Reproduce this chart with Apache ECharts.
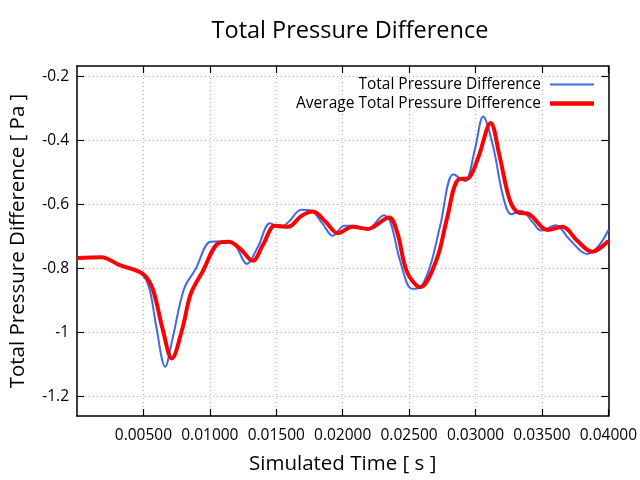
<!DOCTYPE html>
<html>
<head>
<meta charset="utf-8">
<script src="https://cdn.jsdelivr.net/npm/echarts@6/dist/echarts.min.js"></script>
<style>
  html, body { margin: 0; padding: 0; background: #fff; }
  #main { width: 640px; height: 480px; }
</style>
</head>
<body>
<div id="main"></div>
<script>
// values
const rawTime = [0, 0.00184, 0.00321, 0.00483, 0.00545, 0.00595, 0.00664, 0.00719, 0.00806, 0.00893,
  0.01005, 0.01117, 0.01192, 0.01278, 0.01366, 0.01453, 0.01528, 0.01590, 0.01689, 0.01763,
  0.01851, 0.01925, 0.02013, 0.02087, 0.02187, 0.02311, 0.02360, 0.02435, 0.02522, 0.02584,
  0.02659, 0.02734, 0.02834, 0.02920, 0.02995, 0.03057, 0.03132, 0.03207, 0.03269, 0.03343,
  0.03431, 0.03493, 0.03604, 0.03704, 0.03841, 0.03928, 0.04]
const rawValue = [-0.768, -0.766, -0.789, -0.815, -0.864, -0.978, -1.108, -1.02, -0.864, -0.802,
  -0.717, -0.715, -0.729, -0.786, -0.729, -0.659, -0.672, -0.656, -0.617, -0.62,
  -0.662, -0.698, -0.667, -0.667, -0.677, -0.634, -0.656, -0.781, -0.864, -0.859,
  -0.792, -0.667, -0.506, -0.527, -0.428, -0.325, -0.418, -0.574, -0.631, -0.62,
  -0.656, -0.682, -0.665, -0.708, -0.755, -0.729, -0.68]

const avgTime = [0, 0.00184, 0.00321, 0.00495, 0.00569, 0.00644, 0.00714, 0.00793, 0.00856, 0.00943,
  0.01067, 0.01142, 0.01229, 0.01323, 0.01403, 0.01490, 0.01590, 0.01689, 0.01776, 0.01875,
  0.01963, 0.02075, 0.02187, 0.02349, 0.02410, 0.02485, 0.02584, 0.02709, 0.02784, 0.02871,
  0.02946, 0.03020, 0.03114, 0.03181, 0.03256, 0.03319, 0.03405, 0.03543, 0.03654, 0.03766,
  0.03878, 0.04]
const avgValue = [-0.768, -0.765, -0.79, -0.817, -0.864, -0.989, -1.082, -0.989, -0.88, -0.812,
  -0.721, -0.717, -0.739, -0.776, -0.724, -0.667, -0.67, -0.636, -0.622, -0.656,
  -0.69, -0.67, -0.677, -0.641, -0.687, -0.812, -0.859, -0.77, -0.646, -0.522,
  -0.518, -0.454, -0.345, -0.449, -0.584, -0.625, -0.631, -0.68, -0.67, -0.714,
  -0.748, -0.714]

const xTicks = [0.005, 0.01, 0.015, 0.02, 0.025, 0.03, 0.035, 0.04]
const yTicks = [-1.2, -1, -0.8, -0.6, -0.4, -0.2]

const FONT = 'Open Sans'

function pairs(xs, ys) {
  return xs.map((x, i) => [x, ys[i]])
}

const gridLine = {
  show: true,
  lineStyle: { color: '#b0b0b0', type: [1, 3], width: 1 },
}

function xAxis(pos, labels) {
  return {
    type: 'value',
    position: pos,
    min: 0,
    max: 0.04,
    axisLine: { show: true, onZero: false, lineStyle: { color: '#000', width: 1.5 } },
    axisTick: { show: true, inside: true, length: 7, customValues: xTicks,
      lineStyle: { color: '#000', width: 1.2 } },
    axisLabel: { show: labels, customValues: xTicks, margin: 12, color: '#000',
      fontFamily: FONT, fontSize: 15.5, formatter: v => v.toFixed(5) },
    splitLine: labels ? gridLine : { show: false },
    name: labels ? 'Simulated Time [ s ]' : '',
    nameLocation: 'middle',
    nameGap: 38,
    nameTextStyle: { color: '#000', fontFamily: FONT, fontSize: 20.5 },
  }
}

function yAxis(pos, labels) {
  return {
    type: 'value',
    position: pos,
    min: -1.262,
    max: -0.167,
    axisLine: { show: true, onZero: false, lineStyle: { color: '#000', width: 1.5 } },
    axisTick: { show: true, inside: true, length: 7, customValues: yTicks,
      lineStyle: { color: '#000', width: 1.2 } },
    axisLabel: { show: labels, customValues: yTicks, margin: 8, color: '#000',
      fontFamily: FONT, fontSize: 15.5 },
    splitLine: labels ? gridLine : { show: false },
    name: labels ? 'Total Pressure Difference [ Pa ]' : '',
    nameLocation: 'middle',
    nameGap: 48,
    nameTextStyle: { color: '#000', fontFamily: FONT, fontSize: 20.5 },
  }
}

const myChart = echarts.init(document.getElementById('main'))

const option = {
  animation: false,
  backgroundColor: '#fff',
  title: {
    text: 'Total Pressure Difference',
    left: 345,
    textAlign: 'center',
    top: 14,
    textStyle: { color: '#000', fontFamily: FONT, fontSize: 23.5, fontWeight: 'normal' },
  },
  legend: {
    orient: 'vertical',
    right: 46,
    top: 75,
    padding: 0,
    align: 'right',
    itemWidth: 44,
    itemHeight: 12,
    itemGap: 0,
    textStyle: { color: '#000', fontFamily: FONT, fontSize: 15.5, padding: [0, 4, 0, 0],
      lineHeight: 19 },
    data: [
      { name: 'Total Pressure Difference', icon: 'path://M0,0H44V2H0Z' },
      { name: 'Average Total Pressure Difference', icon: 'path://M0,0H44V4.5H0Z' },
    ],
  },
  grid: { left: 77, top: 66, right: 28, bottom: 62 },
  xAxis: [xAxis('bottom', true), xAxis('top', false)],
  yAxis: [yAxis('left', true), yAxis('right', false)],
  series: [
    {
      name: 'Total Pressure Difference',
      type: 'line',
      symbol: 'none',
      smooth: 0.35,
      color: '#4169e1',
      lineStyle: { width: 2 },
      data: pairs(rawTime, rawValue),
    },
    {
      name: 'Average Total Pressure Difference',
      type: 'line',
      symbol: 'none',
      smooth: 0.35,
      color: '#ff0000',
      lineStyle: { width: 4 },
      data: pairs(avgTime, avgValue),
    },
  ],
}

myChart.setOption(option)
</script>
</body>
</html>
